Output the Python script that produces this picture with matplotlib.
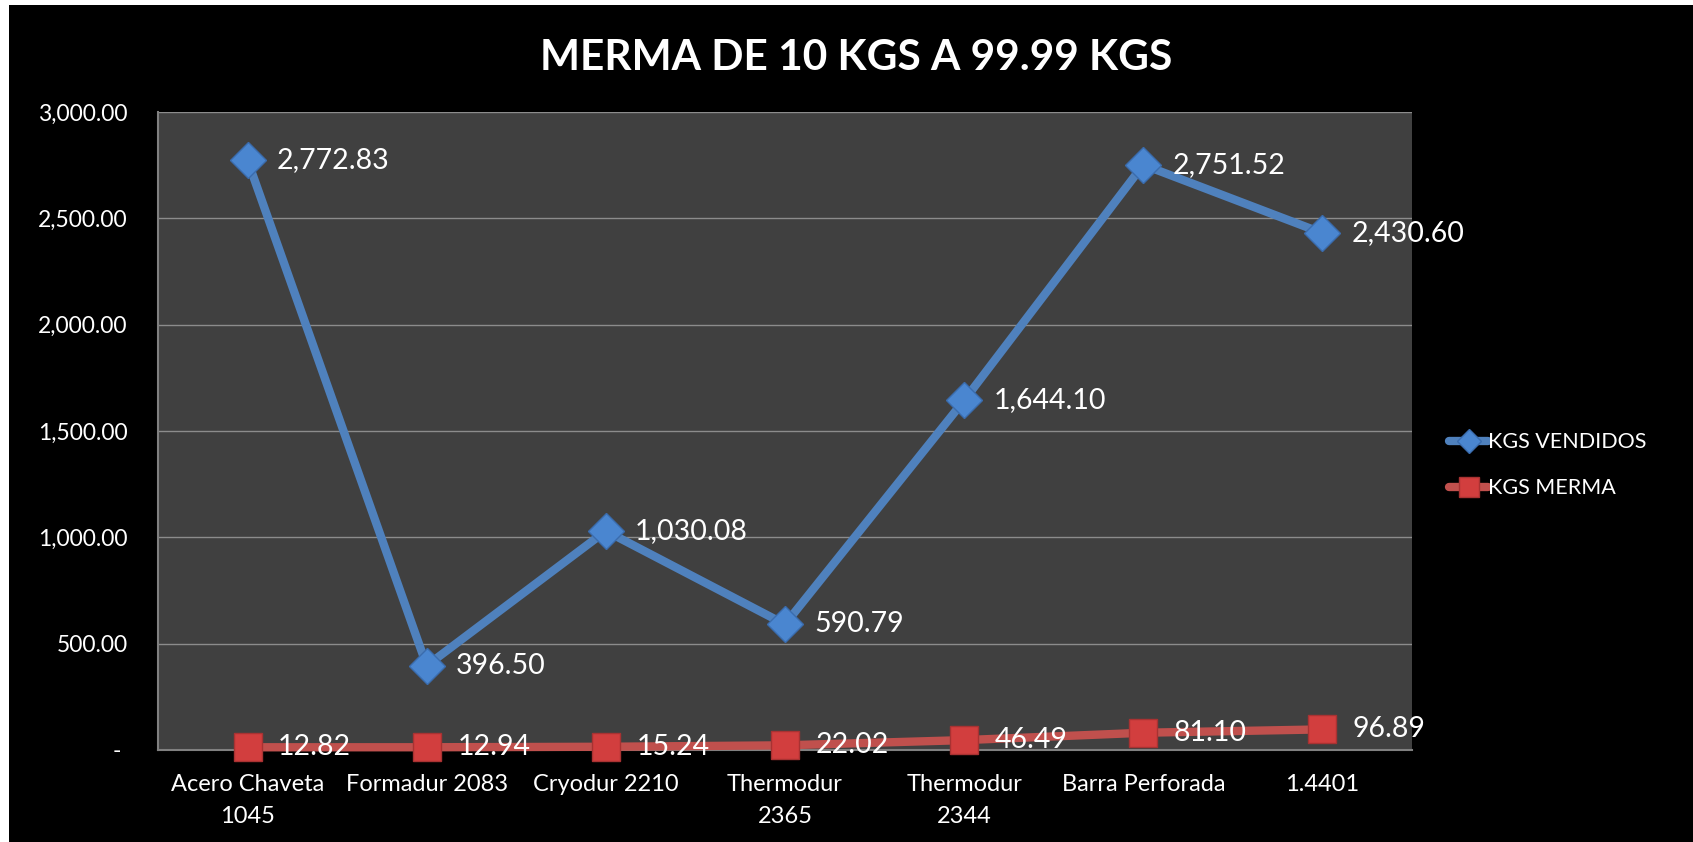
import matplotlib
matplotlib.use("Agg")
import matplotlib.pyplot as plt
from matplotlib.patches import Rectangle

categories = ["Acero Chaveta\n1045", "Formadur 2083", "Cryodur 2210", "Thermodur\n2365",
              "Thermodur\n2344", "Barra Perforada", "1.4401"]
kgs_vendidos = [2772.83, 396.50, 1030.08, 590.79, 1644.10, 2751.52, 2430.60]
kgs_merma = [12.82, 12.94, 15.24, 22.02, 46.49, 81.10, 96.89]
yticks = [0, 500, 1000, 1500, 2000, 2500, 3000]
ytick_labels = ["- ", "500.00", "1,000.00", "1,500.00", "2,000.00", "2,500.00", "3,000.00"]
title = "MERMA DE 10 KGS A 99.99 KGS"

plt.rcParams['font.family'] = ['Lato', 'DejaVu Sans']

W, H = 1693, 842
fig = plt.figure(figsize=(W / 100, H / 100), dpi=100, facecolor="black")
fig.patches.append(Rectangle((0, 0), 9 / W, 1, transform=fig.transFigure,
                             facecolor="white", edgecolor="none", zorder=10))
fig.patches.append(Rectangle((0, 1 - 5 / H), 1, 5 / H, transform=fig.transFigure,
                             facecolor="white", edgecolor="none", zorder=10))

ax = fig.add_axes([158 / W, 1 - 750 / H, (1412 - 158) / W, (750 - 112) / H])
ax.set_facecolor("#404040")
x = list(range(len(categories)))

blue = "#4F81BD"
red = "#C0504D"
ax.plot(x, kgs_vendidos, color=blue, lw=6, marker="D", markersize=18,
        markerfacecolor="#4A86D0", markeredgecolor="#3A6CAD", markeredgewidth=1,
        label="KGS VENDIDOS", zorder=4, solid_capstyle="round")
ax.plot(x, kgs_merma, color=red, lw=6, marker="s", markersize=20,
        markerfacecolor="#D23E3E", markeredgecolor="#A83232", markeredgewidth=1,
        label="KGS MERMA", zorder=3, solid_capstyle="round", clip_on=False)

for xi, v in zip(x, kgs_vendidos):
    ax.annotate(f"{v:,.2f}", (xi, v), xytext=(21, 0), textcoords="offset points",
                ha="left", va="center", color="white", fontsize=20.5, zorder=6)
for xi, v in zip(x, kgs_merma):
    ax.annotate(f"{v:,.2f}", (xi, v), xytext=(22, 0), textcoords="offset points",
                ha="left", va="center", color="white", fontsize=20.5, zorder=6,
                annotation_clip=False)

ax.set_xlim(-0.5, len(categories) - 0.5)
ax.set_ylim(0, 3000)
ax.set_yticks(yticks)
ax.set_yticklabels(ytick_labels, fontsize=16.5)
ax.set_xticks(x)
ax.set_xticklabels(categories, linespacing=1.65, fontsize=17)
ax.tick_params(axis="both", colors="white", length=0)
ax.tick_params(axis="y", pad=22)
ax.tick_params(axis="x", pad=17)
ax.grid(axis="y", color="#8C8C8C", lw=1)
ax.set_axisbelow(True)
for side in ["top", "right"]:
    ax.spines[side].set_visible(False)
for side in ["left", "bottom"]:
    ax.spines[side].set_color("#808080")
    ax.spines[side].set_linewidth(1.5)

fig.text(856 / W, 1 - 58 / H, title, ha="center", va="center",
         color="white", fontsize=30.5, fontweight="bold")

leg = fig.legend(loc="upper left", bbox_to_anchor=(1430 / W, 1 - 413 / H), frameon=False,
                 fontsize=15.5, labelcolor="white", handlelength=1.8, handletextpad=0.0,
                 labelspacing=1.2, markerscale=0.7)

fig.savefig("out.png", dpi=100, facecolor=fig.get_facecolor())
